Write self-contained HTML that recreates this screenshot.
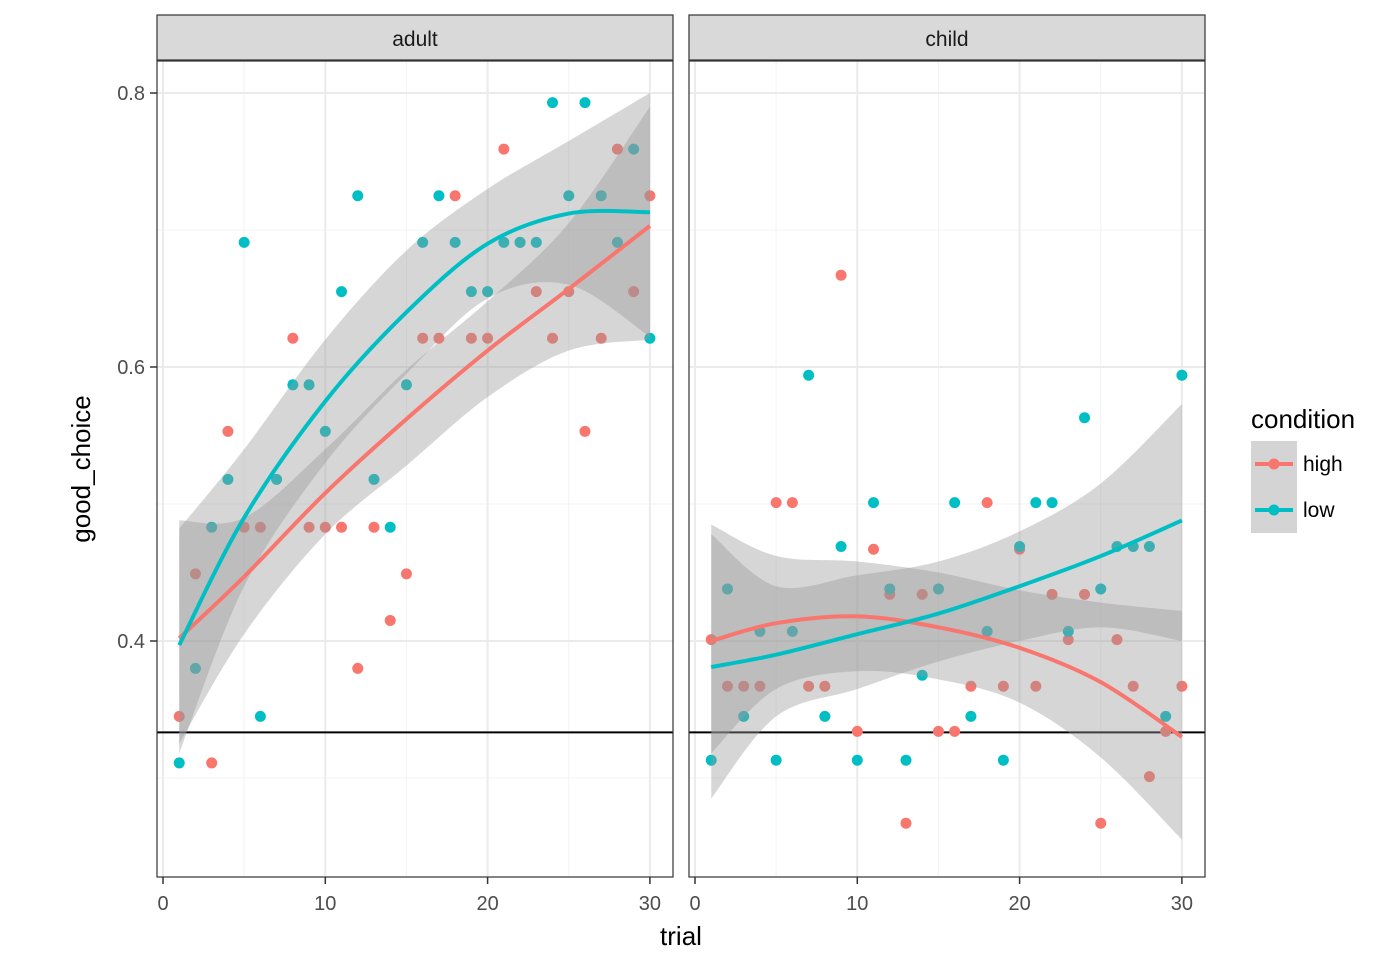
<!DOCTYPE html>
<html><head><meta charset="utf-8"><style>
body{margin:0;background:#fff;font-family:"Liberation Sans",Arial,sans-serif}
</style></head><body>
<svg id="chart" width="1398" height="964" xmlns="http://www.w3.org/2000/svg" font-family="Liberation Sans, Arial, sans-serif"></svg>
<script>
const trials=[1,2,3,4,5,6,7,8,9,10,11,12,13,14,15,16,17,18,19,20,21,22,23,24,25,26,27,28,29,30];
const adultHigh=[0.345,0.449,0.311,0.553,0.483,0.483,null,0.621,0.483,0.483,0.483,0.380,0.483,0.415,0.449,0.621,0.621,0.725,0.621,0.621,0.759,0.691,0.655,0.621,0.655,0.553,0.621,0.759,0.655,0.725];
const adultLow=[0.311,0.380,0.483,0.518,0.691,0.345,0.518,0.587,0.587,0.553,0.655,0.725,0.518,0.483,0.587,0.691,0.725,0.691,0.655,0.655,0.691,0.691,0.691,0.793,0.725,0.793,0.725,0.691,0.759,0.621];
const childHigh=[0.401,0.367,0.367,0.367,0.501,0.501,0.367,0.367,0.667,0.334,0.467,0.434,0.267,0.434,0.334,0.334,0.367,0.501,0.367,0.467,0.367,0.434,0.401,0.434,0.267,0.401,0.367,0.301,0.334,0.367];
const childLow=[0.313,0.438,0.345,0.407,0.313,0.407,0.594,0.345,0.469,0.313,0.501,0.438,0.313,0.375,0.438,0.501,0.345,0.407,0.313,0.469,0.501,0.501,0.407,0.563,0.438,0.469,0.469,0.469,0.345,0.594];
const fitX=[1,5,10,15,20,25,30];
const adultHighFit=[0.402,0.447,0.508,0.562,0.612,0.657,0.703];
const adultHighLo=[0.325,0.405,0.478,0.528,0.578,0.612,0.620];
const adultHighHi=[0.488,0.490,0.540,0.598,0.648,0.705,0.790];
const adultLowFit=[0.397,0.490,0.575,0.640,0.690,0.712,0.713];
const adultLowLo=[0.318,0.440,0.530,0.595,0.650,0.660,0.622];
const adultLowHi=[0.482,0.540,0.620,0.685,0.730,0.765,0.800];
const childHighFit=[0.400,0.413,0.418,0.410,0.395,0.370,0.330];
const childHighLo=[0.318,0.365,0.378,0.372,0.355,0.315,0.255];
const childHighHi=[0.485,0.462,0.458,0.450,0.437,0.428,0.422];
const childLowFit=[0.381,0.390,0.405,0.420,0.440,0.462,0.488];
const childLowLo=[0.285,0.345,0.365,0.385,0.400,0.410,0.400];
const childLowHi=[0.478,0.440,0.448,0.458,0.480,0.515,0.573];
const yTicks=[0.4,0.6,0.8];const yMinor=[0.3,0.5,0.7];
const xTicks=[0,10,20,30];const xMinor=[5,15,25];
const refLine=1/3;

const svg=document.getElementById('chart');const NS='http://www.w3.org/2000/svg';
function mk(t,a,p){const e=document.createElementNS(NS,t);for(const k in a)e.setAttribute(k,a[k]);(p||svg).appendChild(e);return e;}
const y=v=>93+(0.8-v)*1370;
const panels=[{name:'adult',x0:157,x1:673,z:163,hi:adultHigh,lo:adultLow,f:[adultHighFit,adultHighLo,adultHighHi,adultLowFit,adultLowLo,adultLowHi]},
{name:'child',x0:689,x1:1205,z:695,hi:childHigh,lo:childLow,f:[childHighFit,childHighLo,childHighHi,childLowFit,childLowLo,childLowHi]}];
function spline(pts){let d='M'+pts[0][0]+','+pts[0][1];for(let i=0;i<pts.length-1;i++){const p0=pts[i-1]||pts[i],p1=pts[i],p2=pts[i+1],p3=pts[i+2]||p2;
d+=' C'+(p1[0]+(p2[0]-p0[0])/6)+','+(p1[1]+(p2[1]-p0[1])/6)+' '+(p2[0]-(p3[0]-p1[0])/6)+','+(p2[1]-(p3[1]-p1[1])/6)+' '+p2[0]+','+p2[1];}return d;}
function splineRev(pts){return spline(pts.slice().reverse()).replace('M','L');}
panels.forEach(P=>{
 const x=v=>P.z+v*16.23;
 const g=mk('g',{});
 mk('rect',{x:P.x0,y:61,width:P.x1-P.x0,height:816,fill:'#fff'},g);
 yMinor.forEach(v=>mk('line',{x1:P.x0,x2:P.x1,y1:y(v),y2:y(v),stroke:'#f3f3f3','stroke-width':1},g));
 xMinor.forEach(v=>mk('line',{x1:x(v),x2:x(v),y1:61,y2:877,stroke:'#f3f3f3','stroke-width':1},g));
 yTicks.forEach(v=>mk('line',{x1:P.x0,x2:P.x1,y1:y(v),y2:y(v),stroke:'#ebebeb','stroke-width':2},g));
 xTicks.forEach(v=>mk('line',{x1:x(v),x2:x(v),y1:61,y2:877,stroke:'#ebebeb','stroke-width':2},g));
 mk('line',{x1:P.x0,x2:P.x1,y1:y(refLine),y2:y(refLine),stroke:'#000','stroke-width':2},g);
 [[P.hi,'#F8766D','high'],[P.lo,'#00BFC4','low']].forEach(([arr,c,n])=>{arr.forEach((v,i)=>{if(v==null)return;
  const e=mk('circle',{cx:x(trials[i]),cy:y(v),r:5.5,fill:c},g);});});
 [[1,2],[4,5]].forEach(([l,h],k)=>{const lo=fitX.map((t,i)=>[x(t),y(P.f[l][i])]),hi=fitX.map((t,i)=>[x(t),y(P.f[h][i])]);
  const r=mk('path',{d:spline(hi)+' '+splineRev(lo)+'Z',fill:'#999','fill-opacity':0.4},g);
  });
 [[0,'#F8766D','high'],[3,'#00BFC4','low']].forEach(([j,c,n])=>{const pts=fitX.map((t,i)=>[x(t),y(P.f[j][i])]);
  const e=mk('path',{d:spline(pts),fill:'none',stroke:c,'stroke-width':4},g);});
 mk('rect',{x:P.x0,y:61,width:P.x1-P.x0,height:816,fill:'none',stroke:'#333','stroke-width':1.2},g);
 const s=mk('rect',{x:P.x0,y:15,width:P.x1-P.x0,height:45,fill:'#d9d9d9',stroke:'#333','stroke-width':1.2},g);
 const st=mk('text',{x:(P.x0+P.x1)/2,y:46,'text-anchor':'middle','font-size':21,fill:'#1a1a1a'},g);st.textContent=P.name;
 xTicks.forEach(v=>{mk('line',{x1:x(v),x2:x(v),y1:877,y2:884,stroke:'#333','stroke-width':1.5},g);
  const t=mk('text',{x:x(v),y:910,'text-anchor':'middle','font-size':20,fill:'#4d4d4d'},g);t.textContent=v;});
 if(P.name==='adult')yTicks.forEach(v=>{mk('line',{x1:150,x2:157,y1:y(v),y2:y(v),stroke:'#333','stroke-width':1.5},g);
  const t=mk('text',{x:145,y:y(v)+7,'text-anchor':'end','font-size':20,fill:'#4d4d4d'},g);t.textContent=v.toFixed(1);});
});
const xt=mk('text',{x:681,y:945,'text-anchor':'middle','font-size':26,fill:'#000'});xt.textContent='trial';
const yt=mk('text',{x:0,y:0,'text-anchor':'middle','font-size':26,fill:'#000',transform:'translate(90,469) rotate(-90)'});yt.textContent='good_choice';
const lg=mk('g',{});
const lt=mk('text',{x:1251,y:428,'font-size':26,fill:'#000'},lg);lt.textContent='condition';
[['high','#F8766D',441],['low','#00BFC4',487]].forEach(([n,c,yy])=>{const e=mk('g',{},lg);
 mk('rect',{x:1251,y:yy,width:46,height:46,fill:'#d4d4d4'},e);mk('line',{x1:1255,x2:1293,y1:yy+23,y2:yy+23,stroke:c,'stroke-width':4},e);
 mk('circle',{cx:1274,cy:yy+23,r:5.5,fill:c},e);const t=mk('text',{x:1303,y:yy+30,'font-size':21,fill:'#000'},e);t.textContent=n;});
</script>
</body></html>
